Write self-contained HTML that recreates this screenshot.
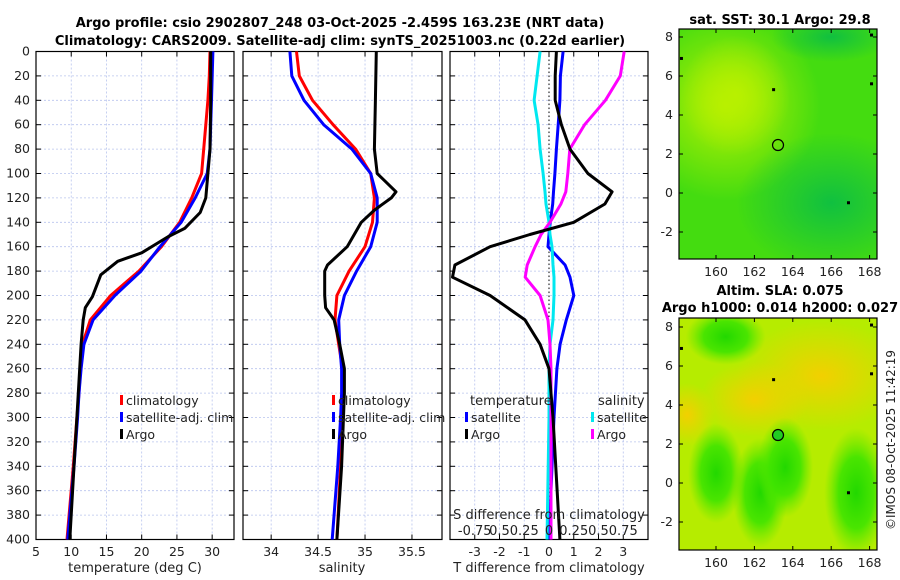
<!DOCTYPE html>
<html><head><meta charset="utf-8">
<style>
html,body{margin:0;padding:0;background:#fff;}
svg{display:block;font-family:"DejaVu Sans","Liberation Sans",sans-serif;}
</style></head>
<body>
<svg id="fig" width="900" height="580" viewBox="0 0 900 580" xmlns="http://www.w3.org/2000/svg">
<defs>
<radialGradient id="sstLight" cx="0.5" cy="0.5" r="0.5"><stop offset="0" stop-color="#b8f000"/><stop offset="1" stop-color="#b8f000" stop-opacity="0"/></radialGradient>
<radialGradient id="sstDark" cx="0.5" cy="0.5" r="0.5"><stop offset="0" stop-color="#10c040"/><stop offset="1" stop-color="#10c040" stop-opacity="0"/></radialGradient>
<radialGradient id="slaYellow" cx="0.5" cy="0.5" r="0.5"><stop offset="0" stop-color="#f2d000"/><stop offset="1" stop-color="#f2d000" stop-opacity="0"/></radialGradient>
<radialGradient id="slaGreen" cx="0.5" cy="0.5" r="0.5"><stop offset="0" stop-color="#22d800"/><stop offset="0.55" stop-color="#3ee400" stop-opacity="0.9"/><stop offset="1" stop-color="#60e800" stop-opacity="0"/></radialGradient>
<clipPath id="clipMap1"><rect x="679" y="29" width="198" height="230"/></clipPath>
<clipPath id="clipMap2"><rect x="679" y="318" width="198" height="232"/></clipPath>
</defs>
<text x="340" y="27" text-anchor="middle" font-size="13" font-weight="bold">Argo profile: csio 2902807_248 03-Oct-2025 -2.459S 163.23E (NRT data)</text>
<text x="340" y="45" text-anchor="middle" font-size="13" font-weight="bold">Climatology: CARS2009. Satellite-adj clim: synTS_20251003.nc (0.22d earlier)</text>
<g id="plots"></g>
<text x="780" y="24" text-anchor="middle" font-size="13" font-weight="bold">sat. SST: 30.1 Argo: 29.8</text>
<text x="780" y="295" text-anchor="middle" font-size="13" font-weight="bold">Altim. SLA: 0.075</text>
<text x="780" y="312" text-anchor="middle" font-size="13" font-weight="bold">Argo h1000: 0.014 h2000: 0.027</text>
<text transform="translate(895,440) rotate(-90)" text-anchor="middle" font-size="12" fill="#222">©IMOS 08-Oct-2025 11:42:19</text>
</svg>
<script>
const depths = [0,20,40,60,80,100,120,140,160,180,200,220,240,260,280,300,340,400];
const tempClim = [29.7,29.6,29.4,29.1,28.8,28.5,27.1,25.4,22.8,19.6,15.6,12.7,11.6,11.3,11.1,10.8,10.3,9.4];
const tempSat  = [30.1,30.0,29.9,29.8,29.7,29.3,27.6,25.6,22.6,19.9,16.2,13.1,11.8,11.4,11.1,10.9,10.4,9.5];
const argoDepths = [0,40,80,100,120,132,145,152,165,172,183,201,210,220,240,260,300,340,400];
const tempArgo = [29.8,29.8,29.7,29.4,29.1,28.3,26.1,23.7,20.0,16.6,14.2,13.0,12.0,11.7,11.4,11.2,10.8,10.4,9.8];
const salClim = [34.27,34.30,34.44,34.66,34.90,35.06,35.10,35.08,35.00,34.83,34.70,34.68,34.72,34.76,34.77,34.76,34.74,34.70];
const salSat  = [34.20,34.22,34.35,34.56,34.86,35.06,35.13,35.13,35.06,34.91,34.78,34.72,34.73,34.75,34.75,34.74,34.71,34.65];
const sArgoDepths = [0,40,80,100,115,120,130,140,160,175,180,200,210,220,240,260,280,340,400];
const salArgo = [35.12,35.11,35.10,35.13,35.33,35.28,35.10,34.96,34.81,34.60,34.57,34.57,34.58,34.67,34.73,34.78,34.78,34.75,34.70];
const diffDepths = [0,20,40,60,80,100,115,125,140,150,160,175,185,200,220,240,260,300,400];
const dTSat  = [0.57,0.46,0.44,0.37,0.30,0.24,0.18,0.15,0.05,0.0,-0.04,0.65,0.85,1.0,0.7,0.45,0.32,0.2,0.0];
const dTArgo = [0.30,0.25,0.25,0.5,0.85,1.57,2.55,2.26,1.0,-0.77,-2.38,-3.8,-3.9,-2.38,-0.97,-0.36,0.0,0.16,0.44];
const dSSat  = [-0.09,-0.12,-0.15,-0.11,-0.09,-0.06,-0.04,-0.03,0.0,0.01,0.03,0.04,0.05,0.05,0.04,0.01,0.0,0.0,-0.02];
const dSArgo = [0.76,0.72,0.57,0.36,0.21,0.19,0.17,0.12,0.01,-0.08,-0.14,-0.22,-0.24,-0.09,-0.01,0.01,0.02,0.02,0.02];
const depthTicks = [0,20,40,60,80,100,120,140,160,180,200,220,240,260,280,300,320,340,360,380,400];
const tempTicks = [5,10,15,20,25,30];
const salTicks = [34,34.5,35,35.5];
const salTickLabels = ["34","34.5","35","35.5"];
const dTTicks = [-3,-2,-1,0,1,2,3];
const dSTicks = [-0.75,-0.5,-0.25,0,0.25,0.5,0.75];
const dSTickLabels = ["-0.75","0.5","0.25","0","0.25","0.5","0.75"];
const lonTicks = [160,162,164,166,168];
const latTicks = [-2,0,2,4,6,8];
const floatLon = 163.23, floatLat = 2.46;

const NS="http://www.w3.org/2000/svg";
const root=document.getElementById('plots');
function mk(tag,attrs,parent){const e=document.createElementNS(NS,tag);for(const k in attrs)e.setAttribute(k,attrs[k]);(parent||root).appendChild(e);return e;}
const Y0=51.5, Y1=539.5;
const yD = d => Y0 + (d/400)*(Y1-Y0);
const panels = [
 {x0:36,x1:234,min:5,max:33.1},
 {x0:243,x1:442,min:33.70,max:35.82},
 {x0:450,x1:648,min:-4,max:4}
];
function xs(p,v){return p.x0+(v-p.min)/(p.max-p.min)*(p.x1-p.x0);}
const xS = v => xs(panels[2], v*4);

function frame(p,name){
  const g=mk('g',{});
  
  
  depthTicks.forEach(d=>{
    const gl=mk('line',{x1:p.x0,x2:p.x1,y1:yD(d),y2:yD(d),stroke:'#b8c4ee','stroke-width':0.8,'stroke-dasharray':'2,2'},g);
    
    
    mk('line',{x1:p.x0,x2:p.x0+5,y1:yD(d),y2:yD(d),stroke:'#000'},g);
    mk('line',{x1:p.x1-5,x2:p.x1,y1:yD(d),y2:yD(d),stroke:'#000'},g);
  });
  return g;
}
function vgrid(g,p,x){
  const l=mk('line',{x1:x,x2:x,y1:Y0,y2:Y1,stroke:'#b8c4ee','stroke-width':0.8,'stroke-dasharray':'2,2'},g);
  
  
  mk('line',{x1:x,x2:x,y1:Y1,y2:Y1-5,stroke:'#000'},g);
  mk('line',{x1:x,x2:x,y1:Y0,y2:Y0+5,stroke:'#000'},g);
}
function box(p,g){mk('rect',{x:p.x0,y:Y0,width:p.x1-p.x0,height:Y1-Y0,fill:'none',stroke:'#000','stroke-width':1.2},g);}
function line(xsArr,dArr,color,name,fx){
  const pts=xsArr.map((v,i)=>fx(v).toFixed(1)+','+yD(dArr[i]).toFixed(1)).join(' ');
  const pl=mk('polyline',{points:pts,fill:'none',stroke:color,'stroke-width':3,'stroke-linejoin':'round'});
  
  
}
function txt(x,y,s,attrs,name,parent){const t=mk('text',Object.assign({x:x,y:y,'font-size':12.5,fill:'#222'},attrs||{}),parent);t.textContent=s;return t;}
function legend(x,y,color,label,name){
  const m=mk('rect',{x:x,y:y-10,width:3,height:10,fill:color});
  
  
  txt(x+6,y,label,{'font-size':12.5},name);
}

let p=panels[0], g=frame(p,'temperature-panel');
tempTicks.forEach(v=>{vgrid(g,p,xs(p,v));txt(xs(p,v),556,String(v),{'text-anchor':'middle'},'temperature-tick-label',g);});
depthTicks.forEach(d=>txt(30,yD(d)+4,String(d),{'text-anchor':'end'},'depth-tick-label',g));
box(p,g);
txt(135,572,'temperature (deg C)',{'text-anchor':'middle','font-size':13},'temperature-axis-title');
line(tempClim,depths,'#ff0000','temp-climatology-line',v=>xs(panels[0],v));
line(tempSat,depths,'#0000ff','temp-satellite-line',v=>xs(panels[0],v));
line(tempArgo,argoDepths,'#000000','temp-argo-line',v=>xs(panels[0],v));
legend(120,405,'#ff0000','climatology','legend-temp-climatology');
legend(120,422,'#0000ff','satellite-adj. clim','legend-temp-satellite');
legend(120,439,'#000000','Argo','legend-temp-argo');

p=panels[1]; g=frame(p,'salinity-panel');
salTicks.forEach((v,i)=>{vgrid(g,p,xs(p,v));txt(xs(p,v),556,salTickLabels[i],{'text-anchor':'middle'},'salinity-tick-label',g);});
box(p,g);
txt(342,572,'salinity',{'text-anchor':'middle','font-size':13},'salinity-axis-title');
line(salClim,depths,'#ff0000','sal-climatology-line',v=>xs(panels[1],v));
line(salSat,depths,'#0000ff','sal-satellite-line',v=>xs(panels[1],v));
line(salArgo,sArgoDepths,'#000000','sal-argo-line',v=>xs(panels[1],v));

p=panels[2]; g=frame(p,'difference-panel');
dTTicks.forEach(v=>{vgrid(g,p,xs(p,v));txt(xs(p,v),556,String(v),{'text-anchor':'middle'},'t-diff-tick-label',g);});
box(p,g);
const z=mk('line',{x1:xs(p,0),x2:xs(p,0),y1:Y0,y2:Y1,stroke:'#000','stroke-width':1,'stroke-dasharray':'1.5,2.5'});


txt(549,572,'T difference from climatology',{'text-anchor':'middle','font-size':13},'t-diff-axis-title');
line(dTSat,diffDepths,'#0000ff','t-diff-satellite-line',v=>xs(panels[2],v));
line(dSSat,diffDepths,'#00e8f0','s-diff-satellite-line',xS);
line(dSArgo,diffDepths,'#ff00ff','s-diff-argo-line',xS);
line(dTArgo,diffDepths,'#000000','t-diff-argo-line',v=>xs(panels[2],v));
txt(549,519,'S difference from climatology',{'text-anchor':'middle','font-size':13},'s-diff-axis-title');
dSTicks.forEach((v,i)=>txt(xS(v),535,dSTickLabels[i],{'text-anchor':'middle','font-size':13},'s-diff-tick-label'));
txt(470,405,'temperature',{'font-size':13},'legend-temperature-heading');
txt(598,405,'salinity',{'font-size':13},'legend-salinity-heading');
legend(465,422,'#0000ff','satellite','legend-t-satellite');
legend(465,439,'#000000','Argo','legend-t-argo');
legend(591,422,'#00e8f0','satellite','legend-s-satellite');
legend(591,439,'#ff00ff','Argo','legend-s-argo');
legend(332,405,'#ff0000','climatology','legend-sal-climatology');
legend(332,422,'#0000ff','satellite-adj. clim','legend-sal-satellite');
legend(332,439,'#000000','Argo','legend-sal-argo');

function map(y0,y1,lat8y,latm2y,kind){
  const x0=679,x1=877;
  const lonX=l=>716+(l-160)*19.2;
  const latY=l=>lat8y+(8-l)*(latm2y-lat8y)/10;
  const mg=mk('g',{});
  
  
  const cg=mk('g',{'clip-path':'url(#clipMap'+(kind==='sst'?1:2)+')'},mg);
  if(kind==='sst'){
    mk('rect',{x:x0,y:y0,width:198,height:y1-y0,fill:'#44dc10'},cg);
    mk('ellipse',{cx:lonX(160.5),cy:latY(4.5),rx:95,ry:95,fill:'url(#sstLight)'},cg);
    mk('ellipse',{cx:lonX(161),cy:latY(5),rx:55,ry:60,fill:'url(#sstLight)'},cg);
    mk('ellipse',{cx:lonX(166),cy:latY(-0.5),rx:95,ry:70,fill:'url(#sstDark)'},cg);
    mk('ellipse',{cx:lonX(166),cy:latY(8),rx:60,ry:25,fill:'url(#sstDark)'},cg);
  } else {
    mk('rect',{x:x0,y:y0,width:198,height:y1-y0,fill:'#b6ec00'},cg);
    mk('ellipse',{cx:lonX(165.5),cy:latY(5.5),rx:85,ry:55,fill:'url(#slaYellow)'},cg);
    mk('ellipse',{cx:lonX(162),cy:latY(4.3),rx:55,ry:38,fill:'url(#slaYellow)'},cg);
    mk('ellipse',{cx:lonX(158.5),cy:latY(3.5),rx:28,ry:32,fill:'url(#slaYellow)'},cg);
    mk('ellipse',{cx:lonX(160),cy:latY(0.5),rx:28,ry:50,fill:'url(#slaGreen)'},cg);
    mk('ellipse',{cx:lonX(162.3),cy:latY(-0.5),rx:28,ry:55,fill:'url(#slaGreen)'},cg);
    mk('ellipse',{cx:lonX(163.6),cy:latY(0.8),rx:28,ry:50,fill:'url(#slaGreen)'},cg);
    mk('ellipse',{cx:lonX(167.3),cy:latY(-0.5),rx:32,ry:65,fill:'url(#slaGreen)'},cg);
    mk('ellipse',{cx:lonX(160.5),cy:latY(7.5),rx:40,ry:28,fill:'url(#slaGreen)'},cg);
  }
  [[158.2,6.9],[163,5.3],[168.1,5.6],[168.1,8.1],[166.9,-0.5]].forEach(pt=>{
    mk('rect',{x:lonX(pt[0])-1.5,y:latY(pt[1])-1.5,width:3,height:3,fill:'#000'},cg);
  });
  const c=mk('circle',{cx:lonX(floatLon),cy:latY(floatLat),r:5.5,fill:kind==='sst'?'none':'#22cc22',stroke:'#000','stroke-width':1.2},mg);
  
  
  mk('rect',{x:x0,y:y0,width:198,height:y1-y0,fill:'none',stroke:'#000','stroke-width':1.2},mg);
  lonTicks.forEach(l=>{
    mk('line',{x1:lonX(l),x2:lonX(l),y1:y1,y2:y1-4,stroke:'#000'},mg);
    mk('line',{x1:lonX(l),x2:lonX(l),y1:y0,y2:y0+4,stroke:'#000'},mg);
    txt(lonX(l),y1+17,String(l),{'text-anchor':'middle'},'lon-tick-label',mg);
  });
  latTicks.forEach(l=>{
    mk('line',{x1:x0,x2:x0+4,y1:latY(l),y2:latY(l),stroke:'#000'},mg);
    mk('line',{x1:x1,x2:x1-4,y1:latY(l),y2:latY(l),stroke:'#000'},mg);
    txt(x0-6,latY(l)+4,String(l),{'text-anchor':'end'},'lat-tick-label',mg);
  });
}
map(29,259,37,232,'sst');
map(318,550,327,522,'sla');
</script>
</body></html>
